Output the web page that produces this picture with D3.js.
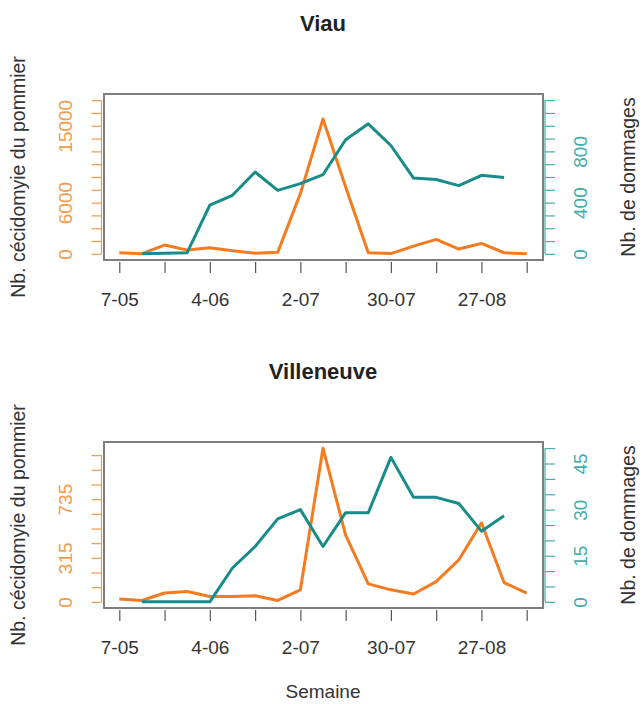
<!DOCTYPE html>
<html>
<head>
<meta charset="utf-8">
<script src="https://d3js.org/d3.v7.min.js"></script>
<style>
  body { margin: 0; background: #fff; }
  svg { display: block; font-family: "Liberation Sans", Arial, sans-serif; }
</style>
</head>
<body>
<svg width="642" height="704"></svg>
<script>
// semaines (un point par semaine)
const weeks = ["7-05", "14-05", "21-05", "28-05", "4-06", "11-06", "18-06", "25-06", "2-07", "9-07",
    "16-07", "23-07", "30-07", "6-08", "13-08", "20-08", "27-08", "3-09", "10-09"];
const xTickWeeks = weeks.filter((d, i) => i % 2 === 0);
const xLabelWeeks = ["7-05", "4-06", "2-07", "30-07", "27-08"];

// Viau
const viauCecido = [130, 20, 1030, 440, 710, 360, 60, 175, 7060, 15800, 7830, 130, 30, 910, 1690, 560, 1220, 130, 10];
const viauDommages = [null, 0, 4, 9, 380, 457, 639, 496, 548, 618, 891, 1015, 846, 592, 580, 533, 613, 597, null];
const viauCecidoTicks = d3.range(0, 18001, 1500);
const viauCecidoLabels = [0, 6000, 15000];
const viauDomTicks = d3.range(0, 1201, 100);
const viauDomLabels = [0, 400, 800];

// Villeneuve
const villCecido = [20, 10, 63, 74, 38, 38, 43, 10, 86, 1100, 478, 129, 86, 56, 145, 300, 566, 138, 63];
const villDommages = [null, 0, 0, 0, 0, 11, 18, 27, 30, 18, 29, 29, 47, 34, 34, 32, 23, 28, null];
const villCecidoTicks = d3.range(0, 1051, 105);
const villCecidoLabels = [0, 315, 735];
const villDomTicks = d3.range(0, 51, 5);
const villDomLabels = [0, 15, 30, 45];

const orange = "#f47b20",
    orangeAxis = "#f59a4a",
    teal = "#178c89",
    tealAxis = "#45aca7",
    boxColor = "#7f7f7f";

let svg = d3.select("svg");

let x = d3.scalePoint()
    .domain(weeks)
    .range([119.3, 526.7]);

const boxLeft = 104,
    boxRight = 543;

drawPanel(94, 260, "Viau", viauCecido, viauDommages, 18000, 1200,
    viauCecidoTicks, viauCecidoLabels, viauDomTicks, viauDomLabels);
drawPanel(442, 608, "Villeneuve", villCecido, villDommages, 1100, 50,
    villCecidoTicks, villCecidoLabels, villDomTicks, villDomLabels);

svg.append("text")
    .attr("x", 323)
    .attr("y", 698)
    .attr("text-anchor", "middle")
    .style("font-size", "19px")
    .style("fill", "#333")
    .text("Semaine");

function drawPanel(boxTop, boxBottom, title, cecido, dommages, cecidoMax, domMax,
    cecidoTicks, cecidoLabels, domTicks, domLabels) {
    let g = svg.append("g");
    let pad = (boxBottom - boxTop) * 0.04 / 1.08;

    let yLeft = d3.scaleLinear()
        .domain([0, cecidoMax])
        .range([boxBottom - pad, boxTop + pad]);
    let yRight = d3.scaleLinear()
        .domain([0, domMax])
        .range([boxBottom - pad, boxTop + pad]);

    // titre
    g.append("text")
        .attr("x", 323)
        .attr("y", boxTop - 63)
        .attr("text-anchor", "middle")
        .style("font-size", "22px")
        .style("font-weight", "bold")
        .style("fill", "#222")
        .text(title);

    // axe x
    let xAxis = g.append("g")
        .attr("transform", `translate(0,${boxBottom + 2})`)
        .call(d3.axisBottom(x)
            .tickValues(xTickWeeks)
            .tickSize(11)
            .tickSizeOuter(0)
            .tickPadding(20)
            .tickFormat(d => xLabelWeeks.includes(d) ? d : ""));
    xAxis.select(".domain").remove();
    xAxis.selectAll("line").attr("stroke", "#555").attr("stroke-width", 1.2);
    xAxis.selectAll("text")
        .attr("font-family", null)
        .attr("dy", null)
        .attr("y", 44)
        .style("font-size", "19px")
        .style("fill", "#333");

    // axe gauche (cécidomyie)
    let leftAxis = g.append("g")
        .attr("transform", `translate(${boxLeft - 2.5},0)`)
        .call(d3.axisLeft(yLeft)
            .tickValues(cecidoTicks)
            .tickSize(10)
            .tickSizeOuter(0)
            .tickFormat(d => cecidoLabels.includes(d) ? d : ""));
    leftAxis.select(".domain").remove();
    leftAxis.append("line")
        .attr("y1", yLeft(cecidoTicks[0]))
        .attr("y2", yLeft(cecidoTicks[cecidoTicks.length - 1]))
        .attr("stroke", orangeAxis)
        .attr("stroke-width", 1.2);
    leftAxis.selectAll(".tick line").attr("stroke", orangeAxis).attr("stroke-width", 1.2);
    leftAxis.selectAll(".tick text")
        .attr("font-family", null)
        .attr("x", 0)
        .attr("y", -30)
        .attr("dy", null)
        .attr("text-anchor", "middle")
        .attr("transform", "rotate(-90)")
        .style("font-size", "19px")
        .style("fill", orangeAxis);

    // axe droit (dommages)
    let rightAxis = g.append("g")
        .attr("transform", `translate(${boxRight + 2},0)`)
        .call(d3.axisRight(yRight)
            .tickValues(domTicks)
            .tickSize(10)
            .tickSizeOuter(0)
            .tickFormat(d => domLabels.includes(d) ? d : ""));
    rightAxis.select(".domain").remove();
    rightAxis.append("line")
        .attr("y1", yRight(domTicks[0]))
        .attr("y2", yRight(domTicks[domTicks.length - 1]))
        .attr("stroke", tealAxis)
        .attr("stroke-width", 1.2);
    rightAxis.selectAll(".tick line").attr("stroke", tealAxis).attr("stroke-width", 1.2);
    rightAxis.selectAll(".tick text")
        .attr("font-family", null)
        .attr("x", 0)
        .attr("y", 41.5)
        .attr("dy", null)
        .attr("text-anchor", "middle")
        .attr("transform", "rotate(-90)")
        .style("font-size", "19px")
        .style("fill", tealAxis);

    // titres des axes y
    let midY = (boxTop + boxBottom) / 2;
    g.append("text")
        .attr("transform", `translate(25,${midY}) rotate(-90)`)
        .attr("text-anchor", "middle")
        .style("font-size", "19.5px")
        .style("fill", "#333")
        .text("Nb. cécidomyie du pommier");
    g.append("text")
        .attr("transform", `translate(635,${midY}) rotate(-90)`)
        .attr("text-anchor", "middle")
        .style("font-size", "19.5px")
        .style("fill", "#333")
        .text("Nb. de dommages");

    // lignes
    let lineLeft = d3.line()
        .defined(d => d != null)
        .x((d, i) => x(weeks[i]))
        .y(d => yLeft(d));
    let lineRight = d3.line()
        .defined(d => d != null)
        .x((d, i) => x(weeks[i]))
        .y(d => yRight(d));

    g.append("path")
        .datum(cecido)
        .attr("d", lineLeft)
        .attr("fill", "none")
        .attr("stroke", orange)
        .attr("stroke-width", 3)
        .attr("stroke-linejoin", "round");
    g.append("path")
        .datum(dommages)
        .attr("d", lineRight)
        .attr("fill", "none")
        .attr("stroke", teal)
        .attr("stroke-width", 3)
        .attr("stroke-linejoin", "round");

    // cadre
    g.append("rect")
        .attr("x", boxLeft)
        .attr("y", boxTop)
        .attr("width", boxRight - boxLeft)
        .attr("height", boxBottom - boxTop)
        .attr("fill", "none")
        .attr("stroke", boxColor)
        .attr("stroke-width", 2);
}
</script>
</body>
</html>
